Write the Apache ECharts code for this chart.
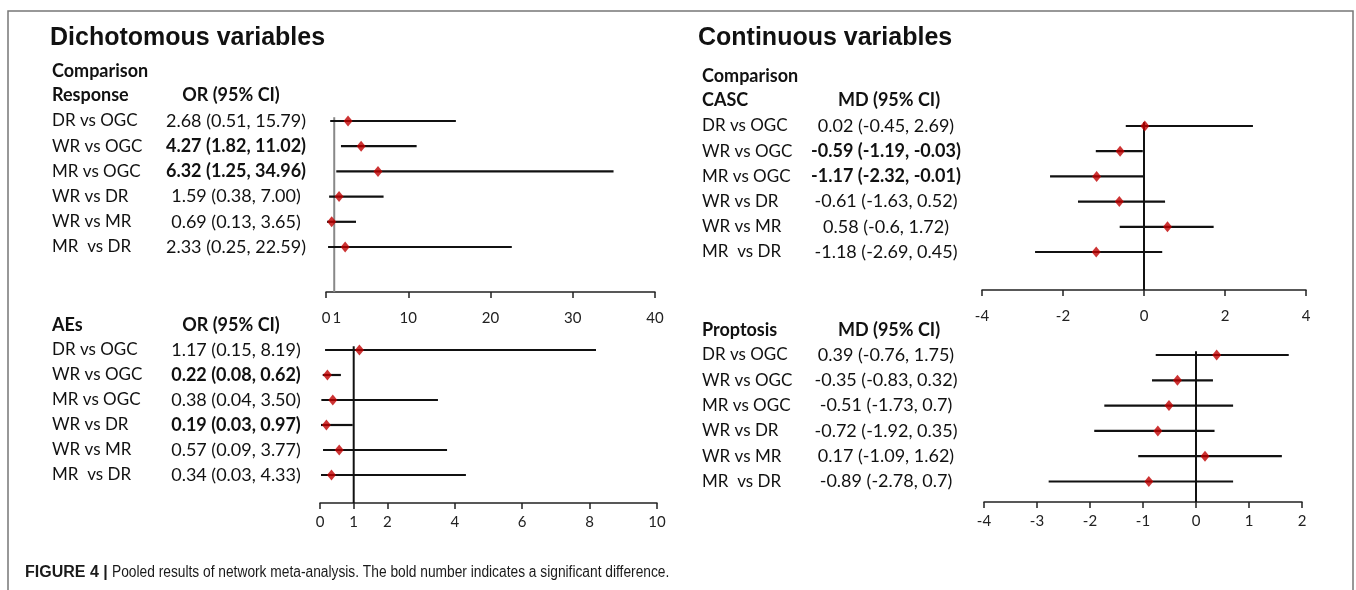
<!DOCTYPE html>
<html>
<head>
<meta charset="utf-8">
<script src="https://cdn.jsdelivr.net/npm/echarts@6/dist/echarts.min.js"></script>
<style>
  html, body { margin: 0; padding: 0; background: #fff; }
  #chart { width: 1356px; height: 590px; }
</style>
</head>
<body>
<div id="chart"></div>
<script>
// comparisons, same order in every panel
const comparisons = ['DR vs OGC', 'WR vs OGC', 'MR vs OGC', 'WR vs DR', 'WR vs MR', 'MR  vs DR'];

// Dichotomous: response (OR)
const responseEst = [2.68, 4.27, 6.32, 1.59, 0.69, 2.33];
const responseLow = [0.51, 1.82, 1.25, 0.38, 0.13, 0.25];
const responseHigh = [15.79, 11.02, 34.96, 7.00, 3.65, 22.59];
const responseText = ['2.68 (0.51, 15.79)', '4.27 (1.82, 11.02)', '6.32 (1.25, 34.96)', '1.59 (0.38, 7.00)', '0.69 (0.13, 3.65)', '2.33 (0.25, 22.59)'];
const responseBold = [false, true, true, false, false, false];
const responseTicks = [0, 10, 20, 30, 40];
const responseExtraLabels = [1];

// Dichotomous: AEs (OR)
const aesEst = [1.17, 0.22, 0.38, 0.19, 0.57, 0.34];
const aesLow = [0.15, 0.08, 0.04, 0.03, 0.09, 0.03];
const aesHigh = [8.19, 0.62, 3.50, 0.97, 3.77, 4.33];
const aesText = ['1.17 (0.15, 8.19)', '0.22 (0.08, 0.62)', '0.38 (0.04, 3.50)', '0.19 (0.03, 0.97)', '0.57 (0.09, 3.77)', '0.34 (0.03, 4.33)'];
const aesBold = [false, true, false, true, false, false];
const aesTicks = [0, 1, 2, 4, 6, 8, 10];

// Continuous: CASC (MD)
const cascEst = [0.02, -0.59, -1.17, -0.61, 0.58, -1.18];
const cascLow = [-0.45, -1.19, -2.32, -1.63, -0.6, -2.69];
const cascHigh = [2.69, -0.03, -0.01, 0.52, 1.72, 0.45];
const cascText = ['0.02 (-0.45, 2.69)', '-0.59 (-1.19, -0.03)', '-1.17 (-2.32, -0.01)', '-0.61 (-1.63, 0.52)', '0.58 (-0.6, 1.72)', '-1.18 (-2.69, 0.45)'];
const cascBold = [false, true, true, false, false, false];
const cascTicks = [-4, -2, 0, 2, 4];

// Continuous: proptosis (MD)
const proptosisEst = [0.39, -0.35, -0.51, -0.72, 0.17, -0.89];
const proptosisLow = [-0.76, -0.83, -1.73, -1.92, -1.09, -2.78];
const proptosisHigh = [1.75, 0.32, 0.7, 0.35, 1.62, 0.7];
const proptosisText = ['0.39 (-0.76, 1.75)', '-0.35 (-0.83, 0.32)', '-0.51 (-1.73, 0.7)', '-0.72 (-1.92, 0.35)', '0.17 (-1.09, 1.62)', '-0.89 (-2.78, 0.7)'];
const proptosisBold = [false, false, false, false, false, false];
const proptosisTicks = [-4, -3, -2, -1, 0, 1, 2];

const NAME_FONT = '17px Lato';
const VALUE_FONT = '18px Lato';
const VALUE_FONT_BOLD = 'bold 18px Lato';
const INK = '#111';

function labelStyle(values, gap) {
  return { customValues: values, margin: gap, color: '#222', fontFamily: 'Lato', fontSize: 15,
    showMinLabel: true, showMaxLabel: true, hideOverlap: false };
}

// one forest plot: grid + axes + series
function forest(idx, d, L) {
  const yMin = -0.3;
  const yMax = (L.axisY - L.row0) / L.step;
  const top = L.row0 + yMin * L.step;
  const grid = { left: L.left, width: L.width, top: top, height: L.axisY - top };
  const xMin = d.ticks[0];
  const xMax = d.ticks[d.ticks.length - 1];

  const xAxes = [{
    gridIndex: idx, type: 'value', min: xMin, max: xMax,
    axisLine: { onZero: false, lineStyle: { color: '#222', width: 1.5 } },
    axisTick: { customValues: d.ticks, length: 6, lineStyle: { color: '#222', width: 1.5 } },
    axisLabel: labelStyle(d.ticks, L.labelGap),
    splitLine: { show: false }
  }];
  if (d.extraLabels) {
    // extra labels that sit too close to the main ones (e.g. "0 1")
    const extra = labelStyle(d.extraLabels, L.labelGap);
    extra.padding = [0, 0, 0, 5];
    xAxes.push({
      gridIndex: idx, type: 'value', position: 'bottom', min: xMin, max: xMax,
      axisLine: { show: false }, axisTick: { show: false }, splitLine: { show: false },
      axisLabel: extra
    });
  }
  const yAxis = { gridIndex: idx, type: 'value', inverse: true, min: yMin, max: yMax, show: false };

  const series = [
    {
      // reference (no-effect) line
      type: 'custom', xAxisIndex: idx, yAxisIndex: idx, silent: true,
      data: [[d.ref]],
      renderItem: (params, api) => {
        const a = api.coord([api.value(0), -0.15]);
        const b = api.coord([api.value(0), yMax]);
        return { type: 'line', shape: { x1: a[0], y1: a[1], x2: b[0], y2: b[1] },
          style: { stroke: L.refColor, lineWidth: 2 } };
      }
    },
    {
      // confidence intervals
      type: 'custom', xAxisIndex: idx, yAxisIndex: idx, silent: true,
      data: d.low.map((lo, i) => [lo, d.high[i], i]),
      renderItem: (params, api) => {
        const a = api.coord([api.value(0), api.value(2)]);
        const b = api.coord([api.value(1), api.value(2)]);
        return { type: 'line', shape: { x1: a[0], y1: a[1], x2: b[0], y2: b[1] },
          style: { stroke: INK, lineWidth: 2.2 } };
      }
    },
    {
      // point estimates
      type: 'scatter', xAxisIndex: idx, yAxisIndex: idx, silent: true,
      symbol: 'diamond', symbolSize: [9, 11],
      itemStyle: { color: '#c00000' },
      data: d.est.map((v, i) => [v, i]), z: 5
    },
    {
      // row labels: comparison + estimate text
      type: 'custom', xAxisIndex: idx, yAxisIndex: idx, silent: true,
      data: comparisons.map((c, i) => [xMin, i]),
      renderItem: (params, api) => {
        const i = params.dataIndex;
        const y = api.coord([api.value(0), api.value(1)])[1];
        return { type: 'group', children: [
          { type: 'text', style: { text: comparisons[i], x: L.nameX, y: y, verticalAlign: 'middle', font: NAME_FONT, fill: INK } },
          { type: 'text', style: { text: d.text[i], x: L.valueX, y: y, align: 'center', verticalAlign: 'middle',
            font: d.bold[i] ? VALUE_FONT_BOLD : VALUE_FONT, fill: INK } }
        ] };
      }
    }
  ];
  return { grid, xAxes, yAxis, series };
}

const panels = [
  forest(0, { est: responseEst, low: responseLow, high: responseHigh, text: responseText, bold: responseBold,
    ticks: responseTicks, extraLabels: responseExtraLabels, ref: 1 },
    { left: 326, width: 329, row0: 121, step: 25.2, axisY: 292, nameX: 52, valueX: 236, refColor: '#888', labelGap: 19 }),
  forest(1, { est: aesEst, low: aesLow, high: aesHigh, text: aesText, bold: aesBold, ticks: aesTicks, ref: 1 },
    { left: 320, width: 337, row0: 350, step: 25, axisY: 503, nameX: 52, valueX: 236, refColor: '#111', labelGap: 12 }),
  forest(2, { est: cascEst, low: cascLow, high: cascHigh, text: cascText, bold: cascBold, ticks: cascTicks, ref: 0 },
    { left: 982, width: 324, row0: 126, step: 25.2, axisY: 290, nameX: 702, valueX: 886, refColor: '#111', labelGap: 19 }),
  forest(3, { est: proptosisEst, low: proptosisLow, high: proptosisHigh, text: proptosisText, bold: proptosisBold, ticks: proptosisTicks, ref: 0 },
    { left: 984, width: 318, row0: 355, step: 25.3, axisY: 502, nameX: 702, valueX: 886, refColor: '#111', labelGap: 12 })
];

// main axes first so that series xAxisIndex == panel index, extra label axes after
const xAxisList = panels.map(p => p.xAxes[0]).concat(panels.flatMap(p => p.xAxes.slice(1)));

function label(text, x, y, font, align) {
  return { type: 'text', x: x, y: y, silent: true,
    style: { text: text, font: font, fill: INK, align: align || 'left', verticalAlign: 'middle' } };
}
const HEAD = 'bold 18px Lato';
const TITLE = 'bold 25px "Liberation Sans"';

const chart = echarts.init(document.getElementById('chart'), null, { renderer: 'canvas' });
chart.setOption({
  animation: false,
  backgroundColor: '#fff',
  grid: panels.map(p => p.grid),
  xAxis: xAxisList,
  yAxis: panels.map(p => p.yAxis),
  series: panels.flatMap(p => p.series),
  graphic: [
    { type: 'rect', silent: true, shape: { x: 8, y: 11, width: 1345, height: 620 },
      style: { fill: 'none', stroke: '#777', lineWidth: 1.5 } },
    label('Dichotomous variables', 50, 38, TITLE),
    label('Continuous variables', 698, 38, TITLE),
    label('Comparison', 52, 71, HEAD),
    label('Response', 52, 95, HEAD),
    label('OR (95% CI)', 231, 95, HEAD, 'center'),
    label('AEs', 52, 325, HEAD),
    label('OR (95% CI)', 231, 325, HEAD, 'center'),
    label('Comparison', 702, 76, HEAD),
    label('CASC', 702, 100, HEAD),
    label('MD (95% CI)', 889, 100, HEAD, 'center'),
    label('Proptosis', 702, 330, HEAD),
    label('MD (95% CI)', 889, 330, HEAD, 'center'),
    { type: 'text', x: 25, y: 573, silent: true,
      style: { text: 'FIGURE 4 |', font: 'bold 16px "Liberation Sans"', fill: '#1a1a1a', verticalAlign: 'middle' } },
    { type: 'text', x: 112, y: 573, scaleX: 0.86, silent: true,
      style: { text: 'Pooled results of network meta-analysis. The bold number indicates a significant difference.',
        font: '16px "Liberation Sans"', fill: '#1a1a1a', verticalAlign: 'middle' } }
  ]
});
</script>
</body>
</html>
